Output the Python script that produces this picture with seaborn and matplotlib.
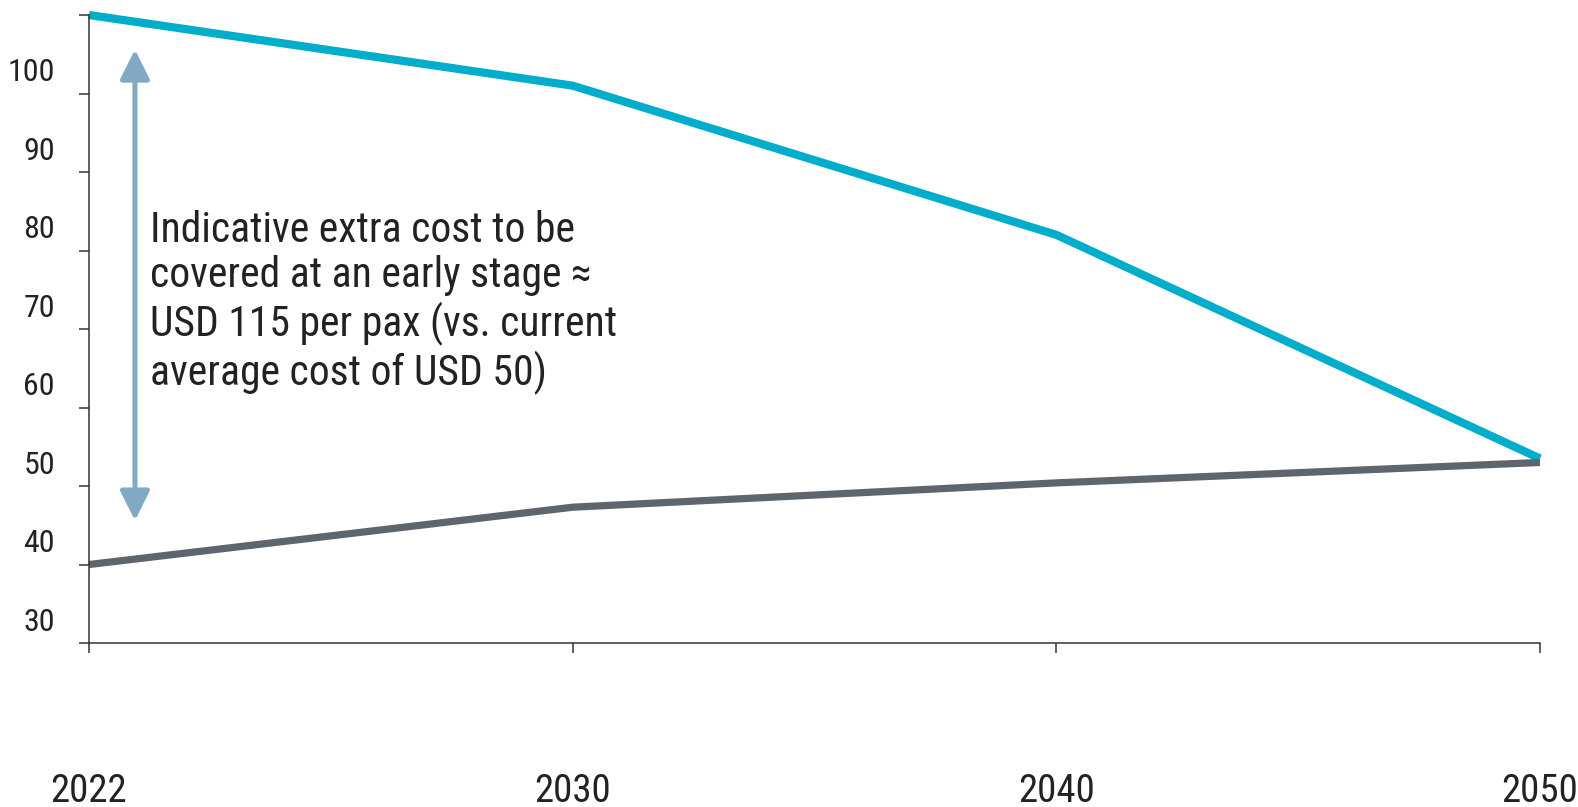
import matplotlib
matplotlib.use("Agg")
import matplotlib.pyplot as plt
from matplotlib import font_manager
from matplotlib.transforms import ScaledTranslation
import seaborn as sns
import pandas as pd

# Chart data
years = ["2022", "2030", "2040", "2050"]
early_cost = [110, 101, 82, 53.5]
average_cost = [40, 47.3, 50.4, 53]
y_ticks = [30, 40, 50, 60, 70, 80, 90, 100, 110]
y_tick_labels = ["30", "40", "50", "60", "70", "80", "90", "100", ""]
note = ("Indicative extra cost to be\n"
        "covered at an early stage \u2248\n"
        "USD 115 per pax (vs. current\n"
        "average cost of USD 50)")

sns.set_style("white")

# prefer a narrow sans face when one is installed
fonts = font_manager.fontManager.ttflist
names = {f.name for f in fonts}
narrow = None
for cand in ["Liberation Sans Narrow", "Arial Narrow", "Roboto Condensed",
             "Open Sans Condensed", "Noto Sans Condensed"]:
    if cand in names:
        narrow = cand
        break
stretch = "normal"
if narrow is None:
    for f in fonts:
        if f.name in ("Liberation Sans", "Roboto", "Noto Sans", "DejaVu Sans") and \
                str(f.stretch) in ("condensed", "semi-condensed"):
            narrow = f.name
            stretch = f.stretch
            break

if narrow is not None:
    plt.rcParams["font.family"] = [narrow, "DejaVu Sans"]
    plt.rcParams["font.stretch"] = stretch
    y_size, x_size, note_size, note_ls = 23, 28, 30, 1.15
else:
    plt.rcParams["font.family"] = ["Liberation Sans", "DejaVu Sans"]
    y_size, x_size, note_size, note_ls = 21, 24, 27, 1.33

BLUE = "#00AECB"
GREY = "#5E656D"
ARROW = "#7FA9C4"
TEXT = "#222222"

df = pd.DataFrame({
    "year": years * 2,
    "cost": early_cost + average_cost,
    "series": ["early"] * len(years) + ["average"] * len(years),
})

fig = plt.figure(figsize=(15.78, 8.07), dpi=100)
ax = fig.add_axes([0.0564, 0.2032, 0.9759 - 0.0564, 0.9814 - 0.2032])

sns.lineplot(data=df, x="year", y="cost", hue="series",
             palette={"early": BLUE, "average": GREY},
             ax=ax, legend=False, sort=False)
for line, lw in zip(ax.get_lines(), [5.9, 5.2]):
    line.set_linewidth(lw)
    line.set_solid_capstyle("butt")
    line.set_solid_joinstyle("miter")
    line.set_clip_on(False)

ax.set_xlim(0, len(years) - 1)
ax.set_ylim(30, 110)
ax.set_xlabel("")
ax.set_ylabel("")

ax.set_yticks(y_ticks)
ax.set_yticklabels(y_tick_labels)
ax.tick_params(axis="y", direction="out", length=7.5, width=1.1, color="#333333",
               labelsize=y_size, labelcolor=TEXT, pad=17, left=True)
ax.tick_params(axis="x", direction="out", length=7.5, width=1.1, color="#333333",
               labelsize=x_size, labelcolor=TEXT, pad=86, bottom=True)

# tick labels sit a little above their tick marks
offset = ScaledTranslation(0, 24 / 100, fig.dpi_scale_trans)
for lab in ax.get_yticklabels():
    lab.set_transform(lab.get_transform() + offset)

for side in ["top", "right"]:
    ax.spines[side].set_visible(False)
for side in ["left", "bottom"]:
    ax.spines[side].set_color("#333333")
    ax.spines[side].set_linewidth(1.1)

# double-headed arrow spanning the cost gap
ax.annotate("", xy=(0.095, 105.6), xytext=(0.095, 45.6),
            arrowprops=dict(arrowstyle="<|-|>,head_length=0.9,head_width=0.45",
                            mutation_scale=20, color=ARROW, lw=3.6,
                            shrinkA=0, shrinkB=0))

ax.text(0.126, 73.4, note, fontsize=note_size, color=TEXT, ha="left", va="center",
        linespacing=note_ls)

fig.savefig("out.png", dpi=100, facecolor="white")
